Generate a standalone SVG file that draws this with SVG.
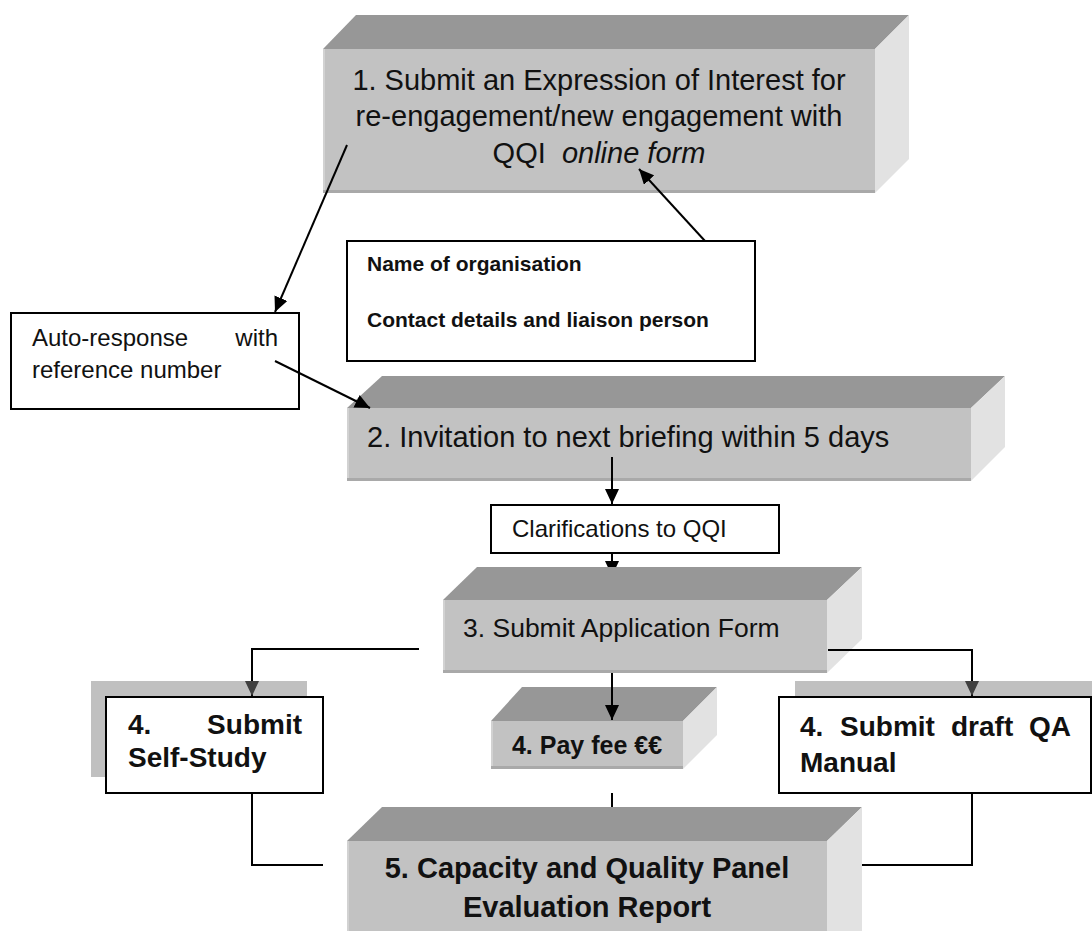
<svg xmlns="http://www.w3.org/2000/svg" width="1092" height="931" viewBox="0 0 1092 931">
<style>
.top{fill:#979797}
.front{fill:#c2c2c2}
.side{fill:#e2e2e2}
.edge{fill:#a9a9a9}
.ledge{fill:#d2d2d2}
.box{fill:#fff;stroke:#000;stroke-width:2}
.shadow{fill:#c0c0c0}
.t{font-family:"Liberation Sans",Arial,sans-serif;fill:#111}
.b{font-weight:bold}
.ln{fill:none;stroke:#000;stroke-width:2}
</style>
<defs>
<marker id="ah" markerUnits="userSpaceOnUse" markerWidth="16" markerHeight="14" refX="15" refY="7" orient="auto">
<path d="M0,0 L15,7 L0,14 Z" fill="#000"/>
</marker>
<marker id="ahg" markerUnits="userSpaceOnUse" markerWidth="16" markerHeight="14" refX="15" refY="7" orient="auto">
<path d="M0,0 L15,7 L0,14 Z" fill="#404040"/>
</marker>
<clipPath id="above3"><rect x="0" y="0" width="1092" height="567"/></clipPath>
</defs>

<g id="node1">
<polygon class="top" points="323,49 356,15 909,15 875,49"/>
<polygon class="side" points="875,49 909,15 909,159 875,193"/>
<rect class="front" x="323" y="49" width="552" height="144"/>
<rect class="ledge" x="323" y="49" width="2" height="144"/>
<rect class="edge" x="323" y="190" width="552" height="3"/>
<text class="t" x="599" y="90" font-size="29" text-anchor="middle">1. Submit an Expression of Interest for</text>
<text class="t" x="599" y="126" font-size="29" text-anchor="middle">re-engagement/new engagement with</text>
<text class="t" x="599" y="163" font-size="29" text-anchor="middle" xml:space="preserve">QQI  <tspan font-style="italic">online form</tspan></text>
</g>

<g id="node-name">
<rect class="box" x="347" y="241" width="408" height="120"/>
<text class="t b" x="367" y="271" font-size="21">Name of organisation</text>
<text class="t b" x="367" y="327" font-size="21">Contact details and liaison person</text>
</g>

<g id="node-auto">
<rect class="box" x="11" y="313" width="288" height="96"/>
<text class="t" x="32" y="346" font-size="24">Auto-response</text>
<text class="t" x="278" y="346" font-size="24" text-anchor="end">with</text>
<text class="t" x="32" y="378" font-size="24">reference number</text>
</g>

<g id="node2">
<polygon class="top" points="347,408 382,376 1005,376 971,408"/>
<polygon class="side" points="971,408 1005,376 1005,447 971,481"/>
<rect class="front" x="347" y="408" width="624" height="73"/>
<rect class="ledge" x="347" y="408" width="2" height="73"/>
<rect class="edge" x="347" y="478" width="624" height="3"/>
<text class="t" x="367" y="447" font-size="29">2. Invitation to next briefing within 5 days</text>
</g>

<g id="node-clar">
<rect class="box" x="491" y="505" width="288" height="48"/>
<text class="t" x="512" y="537" font-size="24">Clarifications to QQI</text>
</g>

<g id="node3">
<polygon class="top" points="443,600 477,567 862,567 827,600"/>
<polygon class="side" points="827,600 862,567 862,639 827,673"/>
<rect class="front" x="443" y="600" width="384" height="73"/>
<rect class="ledge" x="443" y="600" width="2" height="73"/>
<rect class="edge" x="443" y="670" width="384" height="3"/>
<text class="t" x="463" y="637" font-size="26.5">3. Submit Application Form</text>
</g>

<g id="node-selfstudy">
<rect class="shadow" x="91" y="681" width="216" height="96"/>
<rect class="box" x="106" y="697" width="217" height="96"/>
<text class="t b" x="128" y="734" font-size="28">4.</text>
<text class="t b" x="302" y="734" font-size="28" text-anchor="end">Submit</text>
<text class="t b" x="128" y="767" font-size="28">Self-Study</text>
</g>

<g id="node-fee">
<polygon class="top" points="491,721 522,687 717,687 683,721"/>
<polygon class="side" points="683,721 717,687 717,735 683,769"/>
<rect class="front" x="491" y="721" width="192" height="48"/>
<rect class="ledge" x="491" y="721" width="2" height="48"/>
<rect class="edge" x="491" y="766" width="192" height="3"/>
<text class="t b" x="587" y="754" font-size="25" text-anchor="middle">4. Pay fee €€</text>
</g>

<g id="node-manual">
<rect class="shadow" x="795" y="681" width="312" height="96"/>
<rect class="box" x="779" y="697" width="312" height="96"/>
<text class="t b" x="800" y="736" font-size="28">4.</text>
<text class="t b" x="840" y="736" font-size="28">Submit</text>
<text class="t b" x="951" y="736" font-size="28">draft</text>
<text class="t b" x="1071" y="736" font-size="28" text-anchor="end">QA</text>
<text class="t b" x="800" y="772" font-size="28">Manual</text>
</g>

<g id="node5">
<polygon class="top" points="347,841 382,807 862,807 827,841"/>
<polygon class="side" points="827,841 862,807 862,931 827,931"/>
<rect class="front" x="347" y="841" width="480" height="90"/>
<rect class="ledge" x="347" y="841" width="2" height="90"/>
<text class="t b" x="587" y="878" font-size="29" text-anchor="middle">5. Capacity and Quality Panel</text>
<text class="t b" x="587" y="917" font-size="29" text-anchor="middle">Evaluation Report</text>
</g>

<g id="connectors">
<line class="ln" x1="347" y1="145" x2="275" y2="312" marker-end="url(#ah)"/>
<line class="ln" x1="705" y1="241" x2="639" y2="169" marker-end="url(#ah)"/>
<line class="ln" x1="275" y1="361" x2="370" y2="408" marker-end="url(#ah)"/>
<line class="ln" x1="612" y1="457" x2="612" y2="504" marker-end="url(#ah)"/>
<line class="ln" x1="612" y1="553" x2="612" y2="576" marker-end="url(#ah)" clip-path="url(#above3)"/>
<polyline class="ln" points="419,649 252,649 252,696" marker-end="url(#ahg)"/>
<polyline class="ln" points="828,650 972,650 972,696" marker-end="url(#ahg)"/>
<line class="ln" x1="612" y1="673" x2="612" y2="720" marker-end="url(#ah)"/>
<line class="ln" x1="612" y1="793" x2="612" y2="807"/>
<polyline class="ln" points="252,793 252,865 323,865"/>
<polyline class="ln" points="972,793 972,865 862,865"/>
</g>
</svg>
